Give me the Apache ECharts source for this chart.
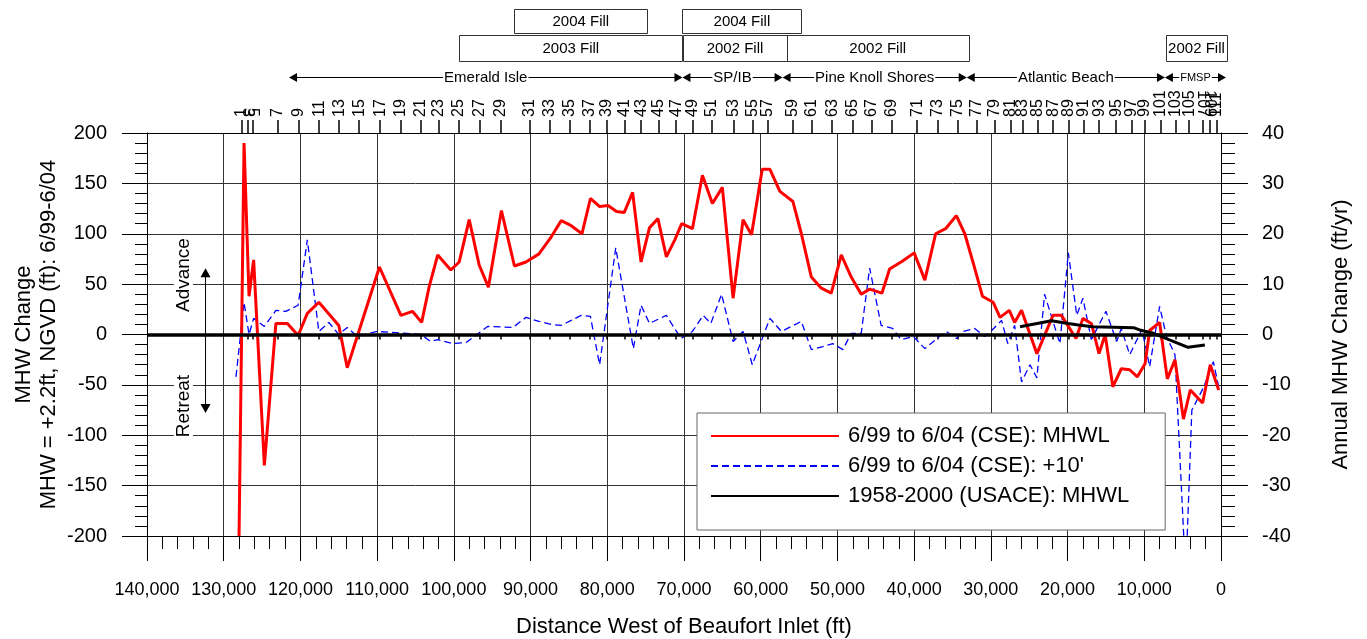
<!DOCTYPE html>
<html><head><meta charset="utf-8">
<script src="https://cdn.jsdelivr.net/npm/echarts@6/dist/echarts.min.js"></script>
<style>html,body{margin:0;padding:0;background:#fff}#c{width:1367px;height:639px}</style>
</head><body><div id="c"></div>
<script>
const FONT = '"Liberation Sans", Arial, Helvetica, sans-serif';

// ---- Data (distance west of Beaufort Inlet, ft) ----
const redDist = [128000,127350,126700,126100,124700,123200,121700,120300,119100,117600,115000,113900,109700,106900,105400,104200,103200,102100,100400,99300,98000,96700,95500,93800,92100,90600,88900,87300,86000,84700,83300,82200,81000,79900,78800,77800,76700,75600,74500,73400,72300,71200,70300,68900,67600,66300,65000,63600,62300,61200,59800,58800,57500,55800,54700,53400,52100,50800,49500,48200,46900,45800,44200,43200,41500,40000,38600,37200,35900,34500,33400,32300,31100,29700,28800,27600,26900,26000,24000,21900,20800,18900,18000,16900,15900,15100,14100,13000,11900,10900,9900,9300,8000,7000,6000,4900,4000,2400,1400,300];
const redVal = [-200,190,38,74,-130,11,11,-1,21,32,9,-33,67,19,23,12,48,79,64,72,114,69,47,123,68,72,80,97,113,108,100,135,127,128,122,121,141,72,106,115,77,94,110,105,158,130,146,36,114,99,164,164,142,132,100,57,46,41,79,57,40,45,41,65,73,81,54,100,105,118,100,71,38,32,17,24,12,24,-19,19,19,-4,16,11,-19,0,-52,-34,-35,-42,-29,4,12,-44,-25,-84,-55,-68,-30,-55];

const blueDist = [128400,127350,126700,126100,124700,123200,121900,120300,119100,117600,116300,115000,113900,112600,110000,108000,104300,103000,102100,100200,98400,95600,92300,90600,88900,87300,86000,84700,83400,82200,81000,78900,76600,75600,74500,72300,70400,68900,67500,66500,65100,63600,62300,61100,58800,57300,54700,53400,51900,50600,49300,48200,46900,45800,44300,42800,41700,40100,38600,36700,35800,34500,33600,32100,30800,29900,28600,27800,26900,26000,24900,24000,23000,21000,19900,18800,18000,16900,15000,13600,13000,11900,10300,9300,8000,7100,6000,4600,3800,2300,1000,300];
const blueVal = [-42,32,0,16,8,24,23,29,94,3,12,0,7,-2,3,2,0,-7,-5,-9,-8,8,7,17,13,10,9,14,19,18,-30,86,-14,29,11,19,-4,3,19,11,40,-7,3,-30,16,3,13,-15,-12,-9,-15,1,1,66,9,6,-5,-2,-14,-2,3,-4,3,6,-2,4,14,-9,9,-47,-30,-43,40,-9,81,19,36,-5,23,-7,6,-20,5,-32,28,-2,-20,-240,-75,-53,-27,-52];

const usaceDist = [26200,22100,19900,18600,16700,11400,10600,8800,4300,2100];
const usaceVal = [1.55,2.74,2.2,1.9,1.55,1.35,0.9,0.24,-2.54,-2.08];   // ft/yr (right axis)

// profile stations (top axis)
const profileNum = [1,3,5,7,9,11,13,15,17,19,21,23,25,27,29,31,33,35,37,39,41,43,45,47,49,51,53,55,57,59,61,63,65,67,69,71,73,75,77,79,81,83,85,87,89,91,93,95,97,99,101,103,105,107,109,111];
const profileDist = [127650,126920,126270,123000,120260,117560,114950,112340,109600,106900,104290,102000,99390,96590,93860,90160,87550,84940,82330,80080,77770,75590,73290,71020,68850,66410,63540,61100,59110,55790,53370,50690,48030,45590,42930,39600,36950,34290,31850,29500,27410,25860,23860,21870,19870,17890,15890,13670,11680,9900,7910,5910,4140,2360,1470,590];

// fill projects
const fillLabel = ['2004 Fill','2003 Fill','2004 Fill','2002 Fill','2002 Fill','2002 Fill'];
const fillFrom  = [92100, 99300, 70200, 70100, 56600, 7200];
const fillTo    = [74800, 70200, 54700, 56600, 32900, -800];
const fillRow   = [0, 1, 0, 1, 1, 1];

// shoreline reaches
const regionName = ['Emerald Isle','SP/IB','Pine Knoll Shores','Atlantic Beach','FMSP'];
const regionFrom = [121480, 70200, 57150, 33140, 7310];
const regionTo   = [70200, 57150, 33140, 7310, -650];

const seriesNames = ['6/99 to 6/04 (CSE): MHWL', "6/99 to 6/04 (CSE): +10'", '1958-2000 (USACE): MHWL'];

const zip = (a,b) => a.map((d,i)=>[d,b[i]]);
const fmtThousands = v => String(v).replace(/\B(?=(\d{3})+(?!\d))/g, ',');
const profileLabel = v => { let bi=0, bd=Infinity; profileDist.forEach((d,i)=>{const e=Math.abs(d-v); if(e<bd){bd=e;bi=i;}}); return String(profileNum[bi]); };

// split profile labels over several label-only axes so crowded end labels all stay visible
const crowdedA = [3, 107], crowdedB = [5, 109];
const distOf = n => profileDist[profileNum.indexOf(n)];
const labelsMain = profileDist.filter((d,i)=> !crowdedA.includes(profileNum[i]) && !crowdedB.includes(profileNum[i]));
const labelsA = crowdedA.map(distOf), labelsB = crowdedB.map(distOf);

const chart = echarts.init(document.getElementById('c'), null, {renderer:'canvas'});
const black = '#000';
const topLabelAxis = vals => ({
  type:'value', min:0, max:140000, inverse:true, position:'top',
  axisLine:{show:false}, axisTick:{show:false}, splitLine:{show:false},
  axisLabel:{show:true, customValues:vals, rotate:90, margin:16, fontSize:16, color:black,
             formatter:profileLabel, showMinLabel:true, showMaxLabel:true, hideOverlap:false}
});
const option = {
  animation:false,
  backgroundColor:'#fff',
  textStyle:{fontFamily:FONT},
  grid:{left:147, right:146, top:133, bottom:103, containLabel:false, outerBoundsMode:'none'},
  legend:{
    orient:'vertical', left:697, top:413, itemWidth:128, itemHeight:14, itemGap:8,
    padding:[12,36,23,13], backgroundColor:'#fff', borderColor:'#666', borderWidth:1,
    itemStyle:{opacity:0},
    textStyle:{fontSize:22, color:'#000', fontFamily:FONT, padding:[0,0,0,4]},
    data:seriesNames
  },
  xAxis:[
    {type:'value', min:0, max:140000, interval:10000, inverse:true, position:'bottom',
     axisLine:{show:true, onZero:false, lineStyle:{color:black, width:1}},
     axisTick:{show:true, length:25, lineStyle:{color:black, width:1}},
     minorTick:{show:true, splitNumber:5, length:13, lineStyle:{color:black, width:1}},
     splitLine:{show:true, lineStyle:{color:'#333', width:1}},
     axisLabel:{fontSize:18, color:black, margin:45, formatter:fmtThousands, showMinLabel:true, showMaxLabel:true},
     name:'Distance West of Beaufort Inlet (ft)', nameLocation:'middle', nameGap:80, nameMoveOverlap:false,
     nameTextStyle:{fontSize:22, color:black}},
    {type:'value', min:0, max:140000, inverse:true, position:'top',
     axisLine:{show:true, onZero:false, lineStyle:{color:black, width:1}},
     axisTick:{show:true, customValues:profileDist, length:13, lineStyle:{color:black, width:1.5}},
     axisLabel:{show:false},
     splitLine:{show:false}},
    {type:'value', min:0, max:140000, inverse:true, position:'top',
     axisLine:{show:false},
     axisTick:{show:true, inside:true, customValues:profileDist, length:5, lineStyle:{color:black, width:1.5}},
     axisLabel:{show:false},
     splitLine:{show:false}},
    topLabelAxis(labelsMain),
    topLabelAxis(labelsA),
    topLabelAxis(labelsB)
  ],
  yAxis:[
    {type:'value', min:-200, max:200, interval:50, position:'left',
     axisLine:{show:true, onZero:false, lineStyle:{color:black, width:1}},
     axisTick:{show:true, length:25, lineStyle:{color:black, width:1}},
     minorTick:{show:true, splitNumber:5, length:12, lineStyle:{color:black, width:1}},
     splitLine:{show:true, lineStyle:{color:'#333', width:1}},
     axisLabel:{fontSize:20, color:black, margin:40},
     name:'MHW Change\nMHW = +2.2ft, NGVD (ft): 6/99-6/04', nameLocation:'middle', nameRotate:90, nameGap:86,
     nameMoveOverlap:false,
     nameTextStyle:{fontSize:22, color:black, lineHeight:25, align:'center'}},
    {type:'value', min:-40, max:40, interval:10, position:'right',
     axisLine:{show:true, onZero:false, lineStyle:{color:black, width:1}},
     axisTick:{show:true, length:27, lineStyle:{color:black, width:1}},
     minorTick:{show:true, splitNumber:5, length:14, lineStyle:{color:black, width:1}},
     splitLine:{show:false},
     axisLabel:{fontSize:20, color:black, margin:41},
     name:'Annual MHW Change (ft/yr)', nameLocation:'middle', nameRotate:90, nameGap:109,
     nameTextStyle:{fontSize:22, color:black}}
  ],
  series:[
    {type:'line', name:'zero', xAxisIndex:0, yAxisIndex:0, data:[], z:2, silent:true,
     markLine:{silent:true, symbol:['none','none'], label:{show:false}, animation:false,
       lineStyle:{color:black, width:3.5, type:'solid'}, data:[{yAxis:0}]}},
    {type:'line', name:seriesNames[1], xAxisIndex:0, yAxisIndex:0, data:zip(blueDist, blueVal),
     symbol:'none', z:3, lineStyle:{color:'#0000ff', width:1.3, type:[7,4]}, itemStyle:{color:'#0000ff'}},
    {type:'line', name:seriesNames[0], xAxisIndex:0, yAxisIndex:0, data:zip(redDist, redVal),
     symbol:'none', z:4, lineStyle:{color:'#ff0000', width:3}, itemStyle:{color:'#ff0000'}},
    {type:'line', name:seriesNames[2], xAxisIndex:0, yAxisIndex:1, data:zip(usaceDist, usaceVal),
     symbol:'none', z:5, lineStyle:{color:black, width:3}, itemStyle:{color:black}}
  ]
};
chart.setOption(option);

const px = d => chart.convertToPixel({xAxisIndex:0}, d);
const py = v => chart.convertToPixel({yAxisIndex:0}, v);
const g = [];
// fill boxes
fillLabel.forEach((t,i)=>{
  const x0 = px(fillFrom[i]), x1 = px(fillTo[i]);
  const y0 = fillRow[i]===0 ? 9 : 35, h = fillRow[i]===0 ? 24 : 26;
  g.push({type:'rect', z:100, shape:{x:Math.round(x0)+0.5, y:y0+0.5, width:Math.round(x1-x0), height:h},
          style:{fill:'#fff', stroke:'#333', lineWidth:1}});
  g.push({type:'text', z:101, x:(x0+x1)/2, y:y0+h/2+1,
          style:{text:t, fill:'#000', fontSize:15, fontFamily:FONT, align:'center', verticalAlign:'middle', textAlign:'center', textVerticalAlign:'middle'}});
});
// reaches
regionName.forEach((n,i)=>{
  const a = px(regionFrom[i]), b = px(regionTo[i]), y = 77.5, L = 8, W = 4.5;
  g.push({type:'line', z:100, shape:{x1:a+2, y1:y, x2:b-2, y2:y}, style:{stroke:'#000', lineWidth:1}});
  g.push({type:'polygon', z:101, shape:{points:[[a,y],[a+L,y-W],[a+L,y+W]]}, style:{fill:'#000'}});
  g.push({type:'polygon', z:101, shape:{points:[[b,y],[b-L,y-W],[b-L,y+W]]}, style:{fill:'#000'}});
  g.push({type:'text', z:102, x:(a+b)/2, y:y,
          style:{text:n, fill:'#000', fontSize: n==='FMSP'?11:15, fontFamily:FONT, align:'center', verticalAlign:'middle', textAlign:'center', textVerticalAlign:'middle', backgroundColor:'#fff', padding:[0,1]}});
});
// advance / retreat arrow
const ax = px(132370), ya = py(65.7), yr = py(-78);
g.push({type:'line', z:100, shape:{x1:ax, y1:ya+6, x2:ax, y2:yr-6}, style:{stroke:'#000', lineWidth:1}});
g.push({type:'polygon', z:101, shape:{points:[[ax,ya],[ax-5,ya+9],[ax+5,ya+9]]}, style:{fill:'#000'}});
g.push({type:'polygon', z:101, shape:{points:[[ax,yr],[ax-5,yr-9],[ax+5,yr-9]]}, style:{fill:'#000'}});
[['Advance',59],['Retreat',-71]].forEach(([t,v])=>{
  g.push({type:'text', z:102, x:px(135250), y:py(v), rotation:Math.PI/2,
          style:{text:t, fill:'#000', fontSize:19, fontFamily:FONT, align:'center', verticalAlign:'middle', textAlign:'center', textVerticalAlign:'middle', backgroundColor:'#fff', padding:[0,3]}});
});
chart.setOption({graphic:g});
</script></body></html>
